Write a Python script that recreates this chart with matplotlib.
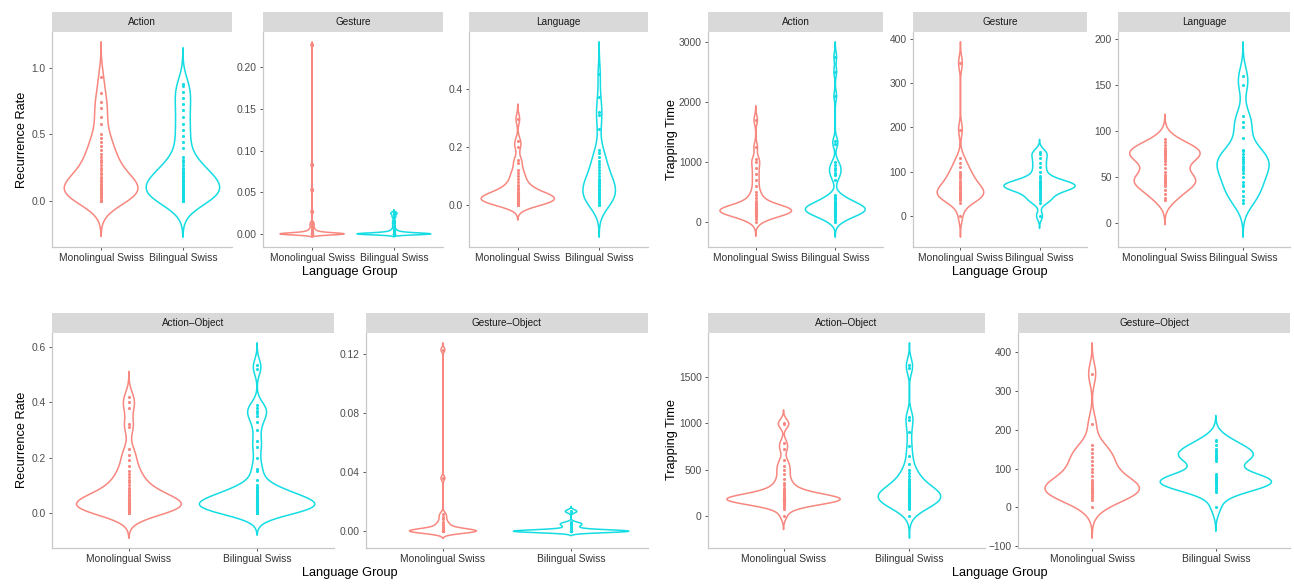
import matplotlib
matplotlib.use("Agg")
import matplotlib.pyplot as plt
from matplotlib import mlab
import numpy as np

plt.rcParams["font.family"] = ["Liberation Sans", "DejaVu Sans"]

groups = ["Monolingual Swiss", "Bilingual Swiss"]
colors = ["#F7877F", "#13DCE3"]

# recurrence rate, top row
rr_action_mono = [0, 0, 0, 0.01, 0.02, 0.03, 0.04, 0.05, 0.05, 0.06, 0.07, 0.08, 0.08, 0.09,
                  0.1, 0.1, 0.11, 0.12, 0.13, 0.14, 0.15, 0.16, 0.17, 0.18, 0.2, 0.21, 0.23,
                  0.25, 0.27, 0.29, 0.31, 0.33, 0.35, 0.38, 0.41, 0.44, 0.47, 0.5, 0.58, 0.63,
                  0.7, 0.74, 0.81, 0.93]
rr_action_bi = [0, 0, 0, 0.01, 0.02, 0.02, 0.03, 0.04, 0.05, 0.05, 0.06, 0.07, 0.08, 0.08,
                0.09, 0.1, 0.1, 0.11, 0.12, 0.13, 0.14, 0.15, 0.16, 0.17, 0.18, 0.19, 0.2,
                0.21, 0.22, 0.23, 0.25, 0.27, 0.29, 0.31, 0.33, 0.4, 0.44, 0.49, 0.53, 0.58,
                0.63, 0.68, 0.73, 0.77, 0.82, 0.86, 0.88]
rr_gesture_mono = [0, 0, 0, 0, 0, 0, 0, 0, 0, 0, 0, 0, 0, 0, 0, 0, 0, 0, 0, 0, 0, 0, 0.0005,
                   0.001, 0.001, 0.0015, 0.002, 0.002, 0.0025, 0.003, 0.004, 0.005, 0.006,
                   0.008, 0.01, 0.012, 0.014, 0.027, 0.053, 0.083, 0.227]
rr_gesture_bi = [0, 0, 0, 0, 0, 0, 0, 0, 0, 0, 0, 0, 0, 0, 0, 0, 0, 0, 0, 0, 0, 0, 0.0005,
                 0.0005, 0.001, 0.001, 0.001, 0.0015, 0.002, 0.002, 0.0025, 0.003, 0.004,
                 0.005, 0.007, 0.01, 0.013, 0.016, 0.02, 0.022, 0.024, 0.025, 0.026]
rr_language_mono = [0, 0, 0, 0.005, 0.005, 0.01, 0.01, 0.01, 0.015, 0.015, 0.02, 0.02, 0.02,
                    0.02, 0.025, 0.025, 0.025, 0.03, 0.03, 0.03, 0.035, 0.035, 0.04, 0.04,
                    0.045, 0.05, 0.055, 0.06, 0.065, 0.07, 0.08, 0.09, 0.1, 0.11, 0.12, 0.145,
                    0.155, 0.2, 0.22, 0.295]
rr_language_bi = [0, 0, 0.005, 0.01, 0.015, 0.02, 0.025, 0.03, 0.035, 0.04, 0.045, 0.05,
                  0.055, 0.06, 0.065, 0.07, 0.075, 0.08, 0.085, 0.09, 0.1, 0.11, 0.12, 0.13,
                  0.14, 0.15, 0.165, 0.18, 0.19, 0.26, 0.31, 0.32, 0.37, 0.45]

# trapping time, top row
tt_action_mono = [0, 50, 80, 100, 110, 120, 130, 140, 150, 160, 170, 180, 185, 190, 195, 200,
                  200, 205, 210, 215, 220, 230, 240, 250, 260, 280, 300, 320, 350, 400, 450,
                  500, 600, 700, 800, 900, 1000, 1050, 1250, 1700]
tt_action_bi = [0, 30, 60, 80, 100, 110, 120, 130, 140, 150, 160, 170, 180, 190, 200, 200,
                210, 210, 220, 220, 230, 230, 240, 250, 260, 270, 280, 290, 300, 310, 320,
                340, 360, 380, 400, 420, 450, 700, 780, 820, 860, 900, 950, 1000, 1300,
                1350, 2100, 2500, 2750]
tt_gesture_mono = [0, 30, 35, 38, 40, 42, 45, 48, 50, 52, 55, 58, 60, 62, 65, 70, 75, 80, 85,
                   90, 95, 100, 110, 120, 130, 195, 345]
tt_gesture_bi = [0, 30, 35, 40, 45, 50, 55, 58, 60, 62, 64, 65, 66, 68, 70, 70, 72, 74, 75,
                 78, 80, 85, 90, 100, 110, 120, 130, 140, 145]
tt_language_mono = [25, 28, 32, 36, 40, 42, 44, 45, 46, 47, 48, 50, 52, 56, 60, 64, 68, 70,
                    72, 74, 75, 76, 77, 78, 79, 80, 82, 85, 88, 92]
tt_language_bi = [22, 25, 30, 35, 40, 42, 45, 50, 55, 58, 60, 62, 65, 68, 70, 72, 75, 78, 80,
                  93, 105, 110, 117, 150, 160]

# recurrence rate, bottom row
rr_actobj_mono = [0, 0, 0, 0.005, 0.005, 0.01, 0.01, 0.015, 0.015, 0.02, 0.02, 0.02, 0.025,
                  0.025, 0.03, 0.03, 0.03, 0.035, 0.035, 0.04, 0.04, 0.045, 0.045, 0.05, 0.05,
                  0.055, 0.06, 0.065, 0.07, 0.075, 0.08, 0.085, 0.09, 0.1, 0.11, 0.12, 0.13,
                  0.14, 0.15, 0.17, 0.19, 0.21, 0.23, 0.31, 0.32, 0.38, 0.4, 0.42]
rr_actobj_bi = [0, 0, 0, 0, 0.005, 0.005, 0.01, 0.01, 0.01, 0.015, 0.015, 0.02, 0.02, 0.02,
                0.025, 0.025, 0.025, 0.03, 0.03, 0.03, 0.03, 0.035, 0.035, 0.04, 0.04, 0.04,
                0.045, 0.045, 0.05, 0.05, 0.055, 0.055, 0.06, 0.06, 0.065, 0.07, 0.07, 0.075,
                0.08, 0.085, 0.09, 0.095, 0.1, 0.12, 0.15, 0.16, 0.2, 0.24, 0.26, 0.3, 0.33,
                0.35, 0.36, 0.37, 0.38, 0.39, 0.52, 0.535]
rr_gestobj_mono = [0, 0, 0, 0, 0, 0, 0, 0, 0, 0, 0, 0, 0, 0, 0.0005, 0.001, 0.0015, 0.002,
                   0.003, 0.004, 0.005, 0.006, 0.008, 0.01, 0.012, 0.036, 0.123]
rr_gestobj_bi = [0, 0, 0, 0, 0, 0, 0, 0, 0, 0, 0, 0, 0, 0, 0, 0, 0.0005, 0.001, 0.002, 0.003,
                 0.004, 0.005, 0.005, 0.006, 0.013, 0.014]

# trapping time, bottom row
tt_actobj_mono = [0, 80, 100, 120, 130, 140, 150, 155, 160, 165, 170, 172, 175, 178, 180, 180,
                  182, 185, 188, 190, 195, 200, 205, 210, 220, 230, 240, 250, 260, 280, 300,
                  330, 360, 400, 450, 500, 540, 600, 720, 790, 990, 1000]
tt_actobj_bi = [0, 80, 90, 100, 110, 120, 130, 140, 150, 160, 170, 180, 190, 200, 210, 220,
                225, 230, 235, 240, 250, 260, 270, 280, 290, 300, 320, 340, 360, 380, 400,
                430, 460, 500, 560, 650, 760, 910, 1040, 1070, 1600, 1630]
tt_gestobj_mono = [0, 20, 25, 30, 35, 40, 40, 45, 45, 50, 50, 55, 60, 65, 70, 80, 90, 100,
                   110, 120, 130, 140, 150, 160, 215, 345]
tt_gestobj_bi = [0, 40, 45, 50, 55, 58, 60, 62, 65, 68, 70, 70, 72, 75, 78, 80, 85, 120, 125,
                 128, 130, 132, 135, 140, 145, 150, 160, 170, 175]

W, H = 1294, 586
fig = plt.figure(figsize=(W / 100, H / 100), dpi=100)


def density(vals):
    # ggplot-like violin: nrd0 bandwidth, tails out to 3 bandwidths
    v = np.asarray(vals, float)
    sd = v.std(ddof=1)
    q75, q25 = np.percentile(v, [75, 25])
    lo = min(sd, (q75 - q25) / 1.34) or sd
    bw = 0.9 * lo * len(v) ** -0.2
    kde = mlab.GaussianKDE(v, bw_method=bw / sd)
    coords = np.linspace(v.min() - 3 * bw, v.max() + 3 * bw, 4000)
    return {"coords": coords, "vals": kde.evaluate(coords), "mean": v.mean(),
            "median": np.median(v), "min": v.min(), "max": v.max()}


def px_rect(x0, y0, x1, y1):
    return [x0 / W, 1 - y1 / H, (x1 - x0) / W, (y1 - y0) / H]


def panel(x0, x1, y0, y1, title, mono, bi, yticks, ylabels):
    ax = fig.add_axes(px_rect(x0, y0, x1, y1))
    stats = [density(mono), density(bi)]
    top = max(s["vals"].max() for s in stats)
    widths = [0.9 * s["vals"].max() / top for s in stats]
    parts = ax.violin(stats, positions=[1, 2], widths=widths, showextrema=False)
    for body, c in zip(parts["bodies"], colors):
        body.set_facecolor("none")
        body.set_edgecolor(c)
        body.set_linewidth(1.1)
        body.set_alpha(1)
    for pos, vals, c in zip([1, 2], [mono, bi], colors):
        ax.scatter(np.full(len(vals), pos), vals, s=5, color=c, linewidths=0, zorder=3)
    ax.set_xlim(0.4, 2.6)
    ax.margins(y=0.05)
    ax.set_xticks([1, 2])
    ax.set_xticklabels(groups, fontsize=7.4, color="#333333")
    ax.set_yticks(yticks)
    ax.set_yticklabels(ylabels, fontsize=7.4, color="#4D4D4D")
    ax.tick_params(length=2.5, width=0.7, color="#555555", pad=2)
    for s in ["top", "right"]:
        ax.spines[s].set_visible(False)
    for s in ["left", "bottom"]:
        ax.spines[s].set_color("#C8C8C8")
        ax.spines[s].set_linewidth(0.9)
    strip = fig.add_axes(px_rect(x0, y0 - 20, x1, y0))
    strip.set_facecolor("#D9D9D9")
    strip.set_xticks([])
    strip.set_yticks([])
    for s in strip.spines.values():
        s.set_visible(False)
    strip.text(0.5, 0.5, title, ha="center", va="center", fontsize=7.2, color="#1A1A1A",
               transform=strip.transAxes)
    return ax


# top-left: recurrence rate
panel(52, 232, 32, 247, "Action", rr_action_mono, rr_action_bi,
      [0, 0.5, 1.0], ["0.0", "0.5", "1.0"])
panel(263, 443, 32, 247, "Gesture", rr_gesture_mono, rr_gesture_bi,
      [0, 0.05, 0.1, 0.15, 0.2], ["0.00", "0.05", "0.10", "0.15", "0.20"])
panel(469, 648, 32, 247, "Language", rr_language_mono, rr_language_bi,
      [0, 0.2, 0.4], ["0.0", "0.2", "0.4"])

# top-right: trapping time
panel(708, 883, 32, 247, "Action", tt_action_mono, tt_action_bi,
      [0, 1000, 2000, 3000], ["0", "1000", "2000", "3000"])
panel(913, 1087, 32, 247, "Gesture", tt_gesture_mono, tt_gesture_bi,
      [0, 100, 200, 300, 400], ["0", "100", "200", "300", "400"])
panel(1118, 1290, 32, 247, "Language", tt_language_mono, tt_language_bi,
      [0, 50, 100, 150, 200], ["0", "50", "100", "150", "200"])

# bottom-left: recurrence rate
panel(52, 334, 333, 548, "Action\u2013Object", rr_actobj_mono, rr_actobj_bi,
      [0, 0.2, 0.4, 0.6], ["0.0", "0.2", "0.4", "0.6"])
panel(366, 648, 333, 548, "Gesture\u2013Object", rr_gestobj_mono, rr_gestobj_bi,
      [0, 0.04, 0.08, 0.12], ["0.00", "0.04", "0.08", "0.12"])

# bottom-right: trapping time
panel(708, 985, 333, 548, "Action\u2013Object", tt_actobj_mono, tt_actobj_bi,
      [0, 500, 1000, 1500], ["0", "500", "1000", "1500"])
panel(1018, 1290, 333, 548, "Gesture\u2013Object", tt_gestobj_mono, tt_gestobj_bi,
      [-100, 0, 100, 200, 300, 400], ["\u2212100", "0", "100", "200", "300", "400"])

# axis titles
for x, y in [(350, 272), (1000, 272), (350, 573), (1000, 573)]:
    fig.text(x / W, 1 - y / H, "Language Group", ha="center", va="center", fontsize=9.2)
for x, y, label in [(22, 140, "Recurrence Rate"), (672, 140, "Trapping Time"),
                    (22, 440, "Recurrence Rate"), (672, 440, "Trapping Time")]:
    fig.text(x / W, 1 - y / H, label, ha="center", va="center", rotation=90, fontsize=9.2)

fig.savefig("out.png", dpi=100)
